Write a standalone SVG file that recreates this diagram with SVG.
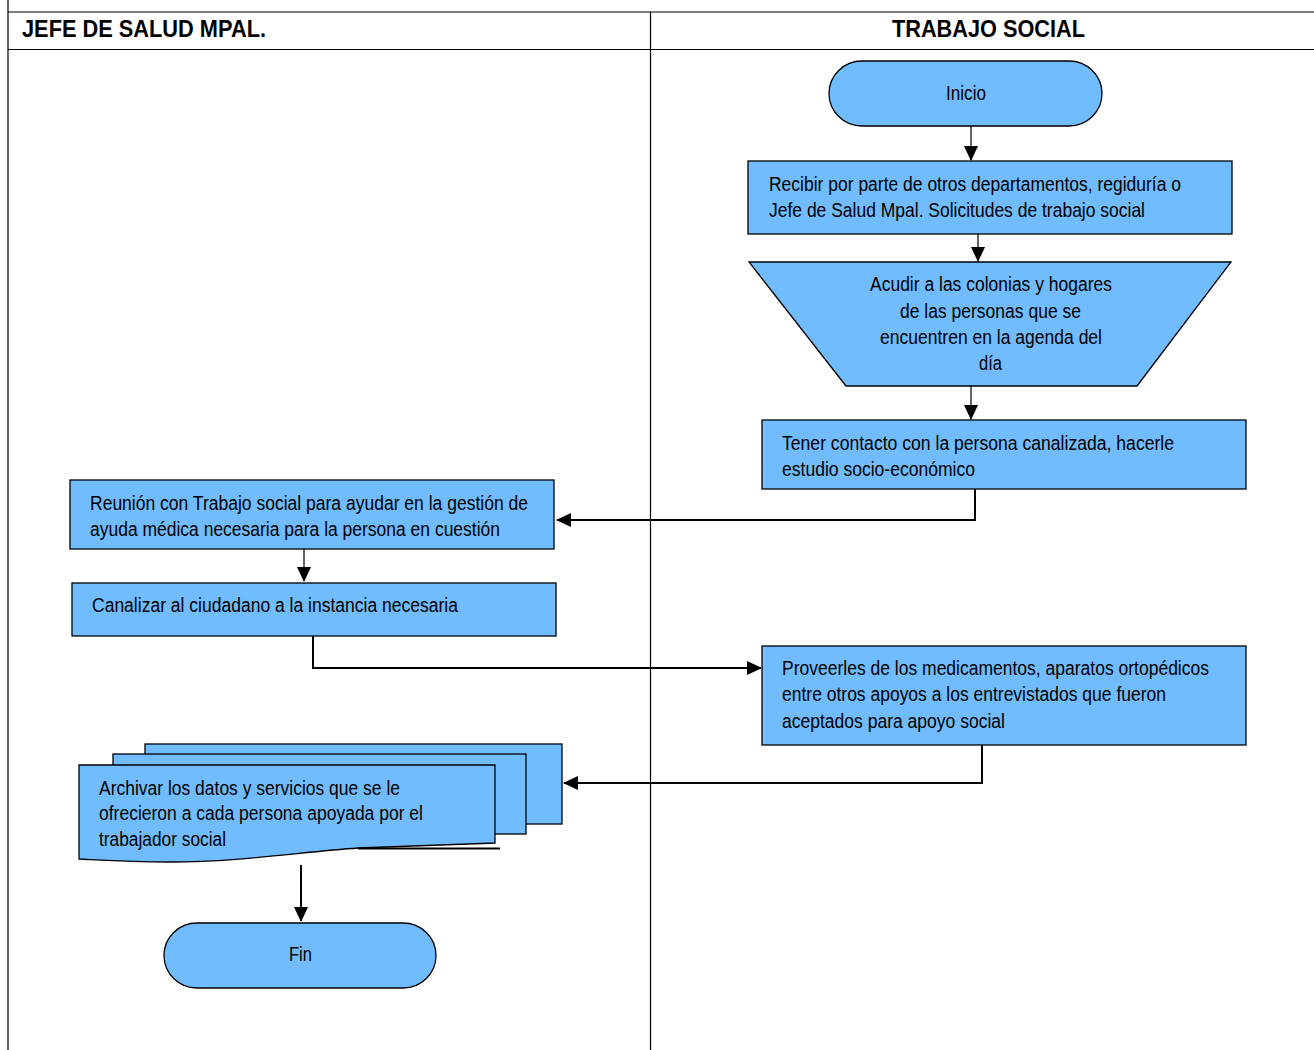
<svg xmlns="http://www.w3.org/2000/svg" width="1314" height="1050" viewBox="0 0 1314 1050">
<style>
text{font-family:"Liberation Sans",Arial,sans-serif;fill:#000}
.hdr{font-size:24px;font-weight:bold}
.t{font-size:20px}
.box{fill:#70bcff;stroke:#000;stroke-width:1.3}
.lane{stroke:#000;stroke-width:1.2;fill:none}
.c{stroke:#000;stroke-width:2;fill:none}
.cg{stroke:#666;stroke-width:2;fill:none}
</style>
<defs>
<marker id="ah" markerWidth="16" markerHeight="16" refX="14" refY="7" orient="auto" markerUnits="userSpaceOnUse">
<path d="M0,0 L15,7 L0,14 Z" fill="#000"/>
</marker>
</defs>
<rect width="1314" height="1050" fill="#fff"/>
<g id="lanes">
<line class="lane" x1="8" y1="0" x2="8" y2="1050"/>
<line class="lane" x1="8" y1="12" x2="1314" y2="12"/>
<line class="lane" x1="8" y1="49.5" x2="1314" y2="49.5" stroke="#555" stroke-width="2"/>
<line class="lane" x1="650.5" y1="12" x2="650.5" y2="1050"/>
<text class="hdr" x="22" y="37" textLength="244" lengthAdjust="spacingAndGlyphs">JEFE DE SALUD MPAL.</text>
<text class="hdr" x="892" y="37" textLength="193" lengthAdjust="spacingAndGlyphs">TRABAJO SOCIAL</text>
</g>
<g id="connectors">
<line class="cg" x1="971" y1="126" x2="971" y2="160" marker-end="url(#ah)"/>
<line class="cg" x1="978" y1="234" x2="978" y2="261" marker-end="url(#ah)"/>
<line class="cg" x1="971" y1="386" x2="971" y2="419" marker-end="url(#ah)"/>
<polyline class="c" points="975,489 975,520 557,520" marker-end="url(#ah)"/>
<line class="cg" x1="304" y1="549" x2="304" y2="581" marker-end="url(#ah)"/>
<polyline class="c" points="313,636 313,668 761,668" marker-end="url(#ah)"/>
<polyline class="c" points="982,745 982,783 564,783" marker-end="url(#ah)"/>
<line class="c" x1="301" y1="865" x2="301" y2="921" stroke-width="1.5" marker-end="url(#ah)"/>
</g>
<g id="inicio">
<rect class="box" x="829" y="61" width="273" height="65" rx="33" ry="33"/>
<text class="t" x="946" y="100" textLength="40" lengthAdjust="spacingAndGlyphs">Inicio</text>
</g>
<g id="recibir">
<rect class="box" x="748" y="161" width="484" height="73"/>
<text class="t" x="769" y="191" textLength="412" lengthAdjust="spacingAndGlyphs">Recibir por parte de otros departamentos, regiduría o</text>
<text class="t" x="769" y="217" textLength="376" lengthAdjust="spacingAndGlyphs">Jefe de Salud Mpal. Solicitudes de trabajo social</text>
</g>
<g id="acudir">
<polygon class="box" points="749,262 1231,262 1137,386 846,386"/>
<text class="t" x="870" y="291" textLength="242" lengthAdjust="spacingAndGlyphs">Acudir a las colonias y hogares</text>
<text class="t" x="900" y="318" textLength="181" lengthAdjust="spacingAndGlyphs">de las personas que se</text>
<text class="t" x="880" y="344" textLength="222" lengthAdjust="spacingAndGlyphs">encuentren en la agenda del</text>
<text class="t" x="979" y="370" textLength="23" lengthAdjust="spacingAndGlyphs">día</text>
</g>
<g id="tener">
<rect class="box" x="762" y="420" width="484" height="69"/>
<text class="t" x="782" y="450" textLength="392" lengthAdjust="spacingAndGlyphs">Tener contacto con la persona canalizada, hacerle</text>
<text class="t" x="782" y="476" textLength="193" lengthAdjust="spacingAndGlyphs">estudio socio-económico</text>
</g>
<g id="reunion">
<rect class="box" x="70" y="480" width="484" height="69"/>
<text class="t" x="90" y="510" textLength="438" lengthAdjust="spacingAndGlyphs">Reunión con Trabajo social para ayudar en la gestión de</text>
<text class="t" x="90" y="536" textLength="410" lengthAdjust="spacingAndGlyphs">ayuda médica necesaria para la persona en cuestión</text>
</g>
<g id="canalizar">
<rect class="box" x="72" y="583" width="484" height="53"/>
<text class="t" x="92" y="612" textLength="366" lengthAdjust="spacingAndGlyphs">Canalizar al ciudadano a la instancia necesaria</text>
</g>
<g id="proveerles">
<rect class="box" x="762" y="646" width="484" height="99"/>
<text class="t" x="782" y="675" textLength="427" lengthAdjust="spacingAndGlyphs">Proveerles de los medicamentos, aparatos ortopédicos</text>
<text class="t" x="782" y="701" textLength="384" lengthAdjust="spacingAndGlyphs">entre otros apoyos a los entrevistados que fueron</text>
<text class="t" x="782" y="728" textLength="223" lengthAdjust="spacingAndGlyphs">aceptados para apoyo social</text>
</g>
<g id="archivar">
<rect class="box" x="145" y="744" width="417" height="80"/>
<rect class="box" x="113" y="754" width="413" height="80"/>
<path class="box" d="M79,765 H495 V843 L358,848 C300,852 240,862 170,862 C130,862 100,860 79,859 Z"/>
<line x1="358" y1="848.5" x2="500" y2="848.5" stroke="#000" stroke-width="2"/>
<text class="t" x="99" y="795" textLength="301" lengthAdjust="spacingAndGlyphs">Archivar los datos y servicios que se le</text>
<text class="t" x="99" y="820" textLength="324" lengthAdjust="spacingAndGlyphs">ofrecieron a cada persona apoyada por el</text>
<text class="t" x="99" y="846" textLength="127" lengthAdjust="spacingAndGlyphs">trabajador social</text>
</g>
<g id="fin">
<rect class="box" x="164" y="923" width="272" height="65" rx="33" ry="33"/>
<text class="t" x="289" y="961" textLength="23" lengthAdjust="spacingAndGlyphs">Fin</text>
</g>
</svg>
